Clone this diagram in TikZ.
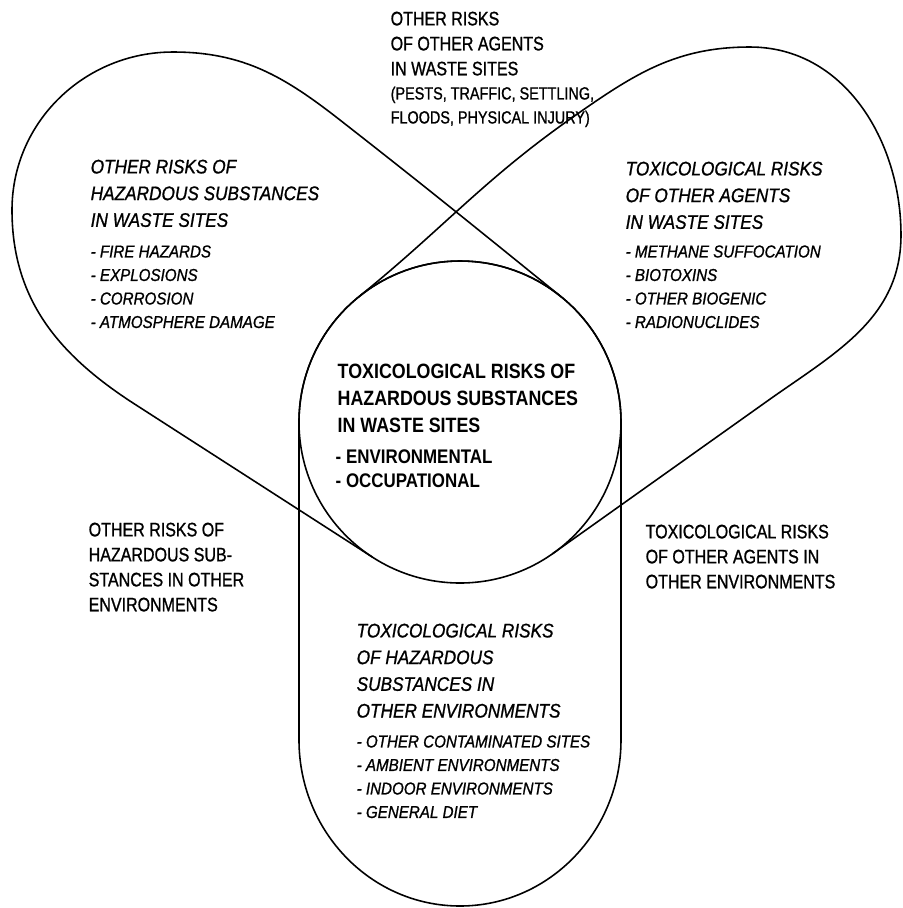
\documentclass[tikz,border=0pt]{standalone}
\usepackage{fontspec}
\usepackage{tikz}
\usetikzlibrary{calc}

\newfontfamily\riskup{Liberation Sans}[FakeStretch=0.82, FakeBold=1.0]
\newfontfamily\riskit{Liberation Sans}[FakeStretch=0.88, FakeBold=1.0]
\newfontfamily\riskbf{Liberation Sans}[FakeStretch=0.86]

\begin{document}
\begin{tikzpicture}[
    every node/.style={inner sep=0pt, anchor=north west, align=left},
    plain/.style={font=\riskup\fontsize{5.56}{7.11}\selectfont},
    aside/.style={font=\riskup\fontsize{5.0}{6.83}\selectfont},
    slanthead/.style={font=\riskit\itshape\fontsize{5.57}{7.6}\selectfont},
    slantlist/.style={font=\riskit\itshape\fontsize{4.9}{6.69}\selectfont},
    boldhead/.style={font=\riskbf\bfseries\fontsize{5.9}{7.68}\selectfont},
    boldlist/.style={font=\riskbf\bfseries\fontsize{5.6}{6.83}\selectfont},
    outline/.style={line width=0.45pt}
]
\useasboundingbox (0,0) rectangle (9.03,-9.08);

\coordinate (c) at (4.60,-4.22);

% Central circle and the pill below it
\draw[outline] (c) circle[radius=1.61];
\draw[outline] ($(c)+(180:1.61)$) -- (2.99,-7.40)
    arc[start angle=180, end angle=360, x radius=1.61, y radius=1.66]
    -- ($(c)+(0:1.61)$) arc[start angle=0, end angle=180, radius=1.61];

% Left lobe of the figure eight
\draw[outline] ($(c)+(51:1.61)$) to[out=141, in=-38] (3.40,-1.20)
    to[out=142, in=0] (1.73,-0.52) to[out=180, in=90] (0.12,-2.10)
    to[out=-90, in=147] (1.33,-4.03) -- ($(c)+(-123:1.61)$);

% Right lobe of the figure eight
\draw[outline] ($(c)+(129:1.61)$) to[out=39, in=-145] (5.73,-1.17)
    to[out=35, in=180] (7.50,-0.47) to[out=0, in=90] (9.01,-2.35)
    to[out=-90, in=35] (7.73,-3.97) -- ($(c)+(-55:1.61)$);

% Labels
\node[plain] (topnote) at (3.90,-0.11) {OTHER RISKS\\OF OTHER AGENTS\\IN WASTE SITES};
\node[aside] (topaside) at (3.90,-0.86) {(PESTS, TRAFFIC, SETTLING,\\FLOODS, PHYSICAL INJURY)};

\node[slanthead] (lefthead) at (0.90,-1.59) {OTHER RISKS OF\\HAZARDOUS SUBSTANCES\\IN WASTE SITES};
\node[slantlist] (leftlist) at (0.90,-2.447) {- FIRE HAZARDS\\- EXPLOSIONS\\- CORROSION\\- ATMOSPHERE DAMAGE};

\node[slanthead] (righthead) at (6.25,-1.61) {TOXICOLOGICAL RISKS\\OF OTHER AGENTS\\IN WASTE SITES};
\node[slantlist] (rightlist) at (6.25,-2.447) {- METHANE SUFFOCATION\\- BIOTOXINS\\- OTHER BIOGENIC\\- RADIONUCLIDES};

\node[boldhead] (corehead) at (3.37,-3.63) {TOXICOLOGICAL RISKS OF\\HAZARDOUS SUBSTANCES\\IN WASTE SITES};
\node[boldlist] (corelist) at (3.35,-4.49) {- ENVIRONMENTAL\\- OCCUPATIONAL};

\node[plain] (leftenv) at (0.88,-5.22) {OTHER RISKS OF\\HAZARDOUS SUB-\\STANCES IN OTHER\\ENVIRONMENTS};
\node[plain] (rightenv) at (6.45,-5.24) {TOXICOLOGICAL RISKS\\OF OTHER AGENTS IN\\OTHER ENVIRONMENTS};

\node[slanthead] (lowhead) at (3.56,-6.23) {TOXICOLOGICAL RISKS\\OF HAZARDOUS\\SUBSTANCES IN\\OTHER ENVIRONMENTS};
\node[slantlist] (lowlist) at (3.56,-7.347) {- OTHER CONTAMINATED SITES\\- AMBIENT ENVIRONMENTS\\- INDOOR ENVIRONMENTS\\- GENERAL DIET};

\end{tikzpicture}
\end{document}
